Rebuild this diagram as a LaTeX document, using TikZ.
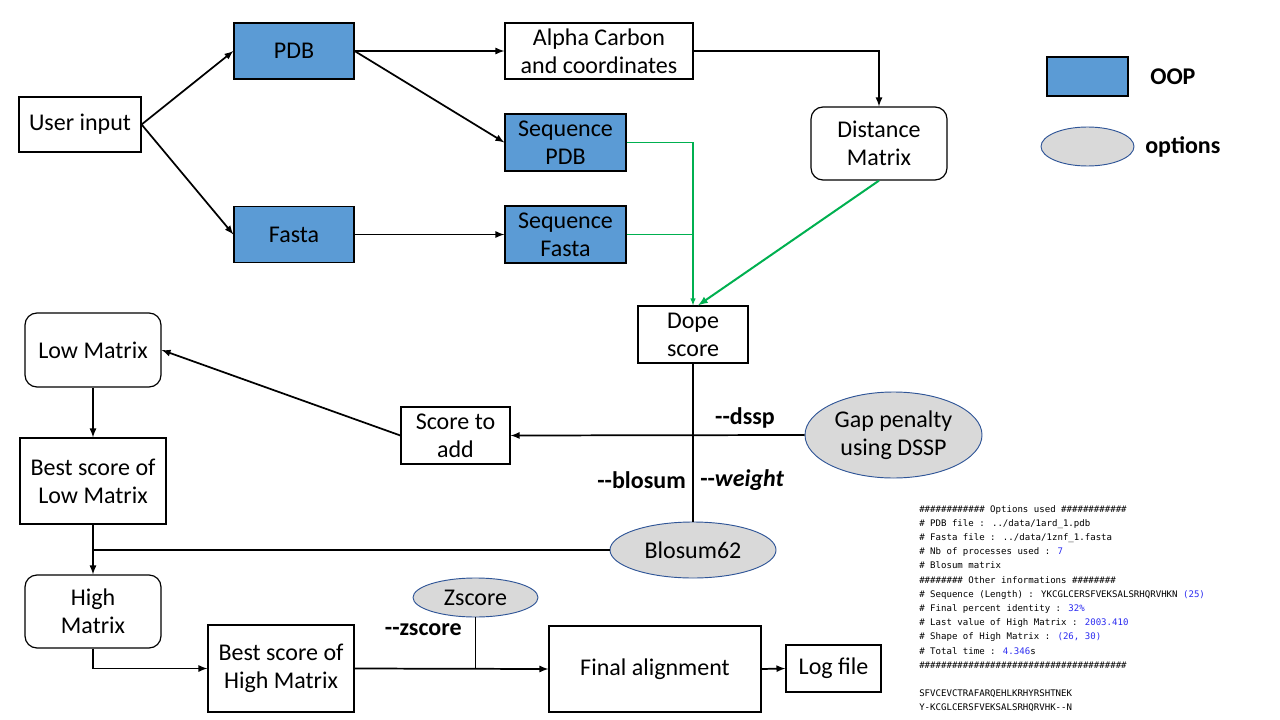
\documentclass[tikz,border=0pt]{standalone}
\usepackage{fontspec}
\setmainfont{Carlito}
\newfontfamily\logfont{DejaVu Sans Mono}
\usetikzlibrary{positioning, arrows, shapes.geometric}

\definecolor{oopblue}{HTML}{5B9BD5}
\definecolor{optgray}{HTML}{D9D9D9}
\definecolor{optedge}{HTML}{2F5597}
\definecolor{linkgreen}{HTML}{00B050}
\definecolor{numblue}{HTML}{2B2BF0}
\newdimen\pxu \pxu=0.75pt
\newcommand{\nb}[1]{\textcolor{numblue}{#1}}

\begin{document}
\begin{tikzpicture}[x=0.75pt, y=-0.75pt,
	every node/.style={font=\fontsize{18}{21}\selectfont, align=center, inner sep=0pt},
	box/.style={draw, line width=0.9pt},
	oop/.style={box, fill=oopblue},
	roundbox/.style={box, rounded corners=9pt},
	option/.style={ellipse, draw=optedge, line width=0.7pt, fill=optgray},
	flag/.style={font=\fontsize{18}{21}\selectfont\bfseries},
	flow/.style={-latex, line width=1.3pt},
	link/.style={linkgreen, line width=0.8pt}]
		\useasboundingbox (0,0) rectangle (1280,720);

		% boxes
		\node [box, minimum width=122\pxu, minimum height=55\pxu] (user) at (80,124.5) {User input};
		\node [oop, minimum width=120\pxu, minimum height=56\pxu] (pdb) at (294,51) {PDB};
		\node [oop, minimum width=120\pxu, minimum height=56\pxu] (fasta) at (294,234.5) {Fasta};
		\node [box, minimum width=188\pxu, minimum height=56\pxu] (alpha) at (599,51) {Alpha Carbon\\and coordinates};
		\node [oop, minimum width=121\pxu, minimum height=57\pxu] (seqpdb) at (565.5,142.5) {Sequence\\PDB};
		\node [oop, minimum width=121\pxu, minimum height=57\pxu] (seqfasta) at (565.5,234.5) {Sequence\\Fasta};
		\node [roundbox, minimum width=136\pxu, minimum height=73\pxu] (dist) at (879,143.5) {Distance\\Matrix};
		\node [box, minimum width=110\pxu, minimum height=57\pxu] (dope) at (693,334.5) {Dope\\score};
		\node [roundbox, minimum width=136\pxu, minimum height=74\pxu] (low) at (93,350) {Low Matrix};
		\node [box, minimum width=109\pxu, minimum height=57\pxu] (score) at (455.5,435.5) {Score to\\add};
		\node [option, minimum width=177\pxu, minimum height=86\pxu] (gap) at (893.5,435) {Gap penalty\\using DSSP};
		\node [box, minimum width=146\pxu, minimum height=86\pxu] (bestlow) at (93,481) {Best score of\\Low Matrix};
		\node [option, minimum width=166\pxu, minimum height=56\pxu] (blosum) at (693,550) {Blosum62};
		\node [roundbox, minimum width=136\pxu, minimum height=73\pxu] (high) at (93,611.5) {High\\Matrix};
		\node [option, minimum width=125\pxu, minimum height=39\pxu] (zscore) at (475.5,597.5) {Zscore};
		\node [box, minimum width=146\pxu, minimum height=87\pxu] (besthigh) at (281,668.5) {Best score of\\High Matrix};
		\node [box, minimum width=212\pxu, minimum height=86\pxu] (final) at (655,669) {Final alignment};
		\node [box, minimum width=95\pxu, minimum height=47\pxu] (log) at (833.5,668.5) {Log file};

		% legend
		\node [oop, minimum width=81\pxu, minimum height=39\pxu] (keyoop) at (1087.5,76.5) {};
		\node [flag, anchor=west] (keyooptext) at (1150,76.5) {OOP};
		\node [option, minimum width=93\pxu, minimum height=39\pxu] (keyopt) at (1087.5,146.5) {};
		\node [flag, anchor=west] (keyopttext) at (1145,147) {options};

		% connectors
		\draw [flow] (user.east) -- (pdb.west);
		\draw [flow] (user.east) -- (fasta.west);
		\draw [flow] (pdb.east) -- (alpha.west);
		\draw [flow] (pdb.east) -- (seqpdb.west);
		\draw [flow] (fasta.east) -- (seqfasta.west);
		\draw [flow] (alpha.east) -| (dist.north);
		\draw [link, -latex] (seqpdb.east) -| (dope.north);
		\draw [link] (seqfasta.east) -- (seqfasta.east -| dope.north);
		\draw [link, line width=1.5pt, -latex] (dist.south) -- ([xshift=5\pxu]dope.north);
		\draw [line width=1.3pt] (dope.south) -- (blosum.north);
		\draw [flow] (gap.west) -- (score.east);
		\draw [flow] (score.west) -- (low.east);
		\draw [flow] (low.south) -- (bestlow.north);
		\draw [flow] (bestlow.south) -- (high.north);
		\draw [line width=1.3pt] (blosum.west) -- (blosum.west -| bestlow.south);
		\draw [flow] (high.south) |- (besthigh.west);
		\draw [flow] (besthigh.east) -- (final.west);
		\draw [line width=1.3pt] (zscore.south) -- (zscore.south |- final.west);
		\draw [flow] (final.east) -- (log.west);

		% option flags
		\node [flag] (dssp) at (745,418) {-{}-dssp};
		\node [flag, anchor=east] (blosumflag) at (686,480) {-{}-blosum};
		\node [flag, anchor=west] (weightflag) at (700,480) {-{}-\textit{weight}};
		\node [flag, anchor=east] (zscoreflag) at (462,630) {-{}-zscore};

		% log output
		\node [anchor=north west, align=left, font=\logfont\fontsize{6.8}{10.64}\selectfont] (stats) at (919,505)
		{\#\#\#\#\#\#\#\#\#\#\#\# Options used \#\#\#\#\#\#\#\#\#\#\#\#\\
		\# PDB file : ../data/1ard\_1.pdb\\
		\# Fasta file : ../data/1znf\_1.fasta\\
		\# Nb of processes used : \nb{7}\\
		\# Blosum matrix\\
		\#\#\#\#\#\#\#\# Other informations \#\#\#\#\#\#\#\#\\
		\# Sequence (Length) : YKCGLCERSFVEKSALSRHQRVHKN \nb{(25)}\\
		\# Final percent identity : \nb{32\%}\\
		\# Last value of High Matrix : \nb{2003.410}\\
		\# Shape of High Matrix : \nb{(26, 30)}\\
		\# Total time : \nb{4.346}s\\
		\#\#\#\#\#\#\#\#\#\#\#\#\#\#\#\#\#\#\#\#\#\#\#\#\#\#\#\#\#\#\#\#\#\#\#\#\#\#};
		\node [anchor=north west, align=left, font=\logfont\fontsize{6.8}{10.64}\selectfont] (aligned) at (919,689)
		{SFVCEVCTRAFARQEHLKRHYRSHTNEK\\
		Y-KCGLCERSFVEKSALSRHQRVHK-{}-N};
\end{tikzpicture}
\end{document}
